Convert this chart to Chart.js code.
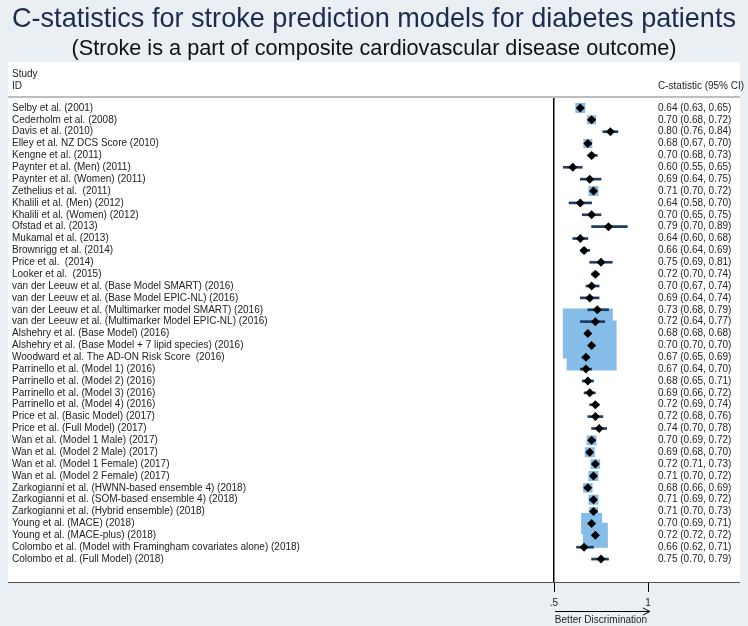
<!DOCTYPE html>
<html><head><meta charset="utf-8">
<script src="https://cdn.jsdelivr.net/npm/chart.js@4/dist/chart.umd.min.js"></script>
<style>html,body{margin:0;padding:0;background:#e9eff3}</style>
</head><body>
<div style="width:748px;height:626px"><canvas id="c" width="748" height="626"></canvas></div>
<script>
const studies = [
  "Selby et al. (2001)",
  "Cederholm et al. (2008)",
  "Davis et al. (2010)",
  "Elley et al. NZ DCS Score (2010)",
  "Kengne et al. (2011)",
  "Paynter et al. (Men) (2011)",
  "Paynter et al. (Women) (2011)",
  "Zethelius et al.  (2011)",
  "Khalili et al. (Men) (2012)",
  "Khalili et al. (Women) (2012)",
  "Ofstad et al. (2013)",
  "Mukamal et al. (2013)",
  "Brownrigg et al. (2014)",
  "Price et al.  (2014)",
  "Looker et al.  (2015)",
  "van der Leeuw et al. (Base Model SMART) (2016)",
  "van der Leeuw et al. (Base Model EPIC-NL) (2016)",
  "van der Leeuw et al. (Multimarker model SMART) (2016)",
  "van der Leeuw et al. (Multimarker Model EPIC-NL) (2016)",
  "Alshehry et al. (Base Model) (2016)",
  "Alshehry et al. (Base Model + 7 lipid species) (2016)",
  "Woodward et al. The AD-ON Risk Score  (2016)",
  "Parrinello et al. (Model 1) (2016)",
  "Parrinello et al. (Model 2) (2016)",
  "Parrinello et al. (Model 3) (2016)",
  "Parrinello et al. (Model 4) (2016)",
  "Price et al. (Basic Model) (2017)",
  "Price et al. (Full Model) (2017)",
  "Wan et al. (Model 1 Male) (2017)",
  "Wan et al. (Model 2 Male) (2017)",
  "Wan et al. (Model 1 Female) (2017)",
  "Wan et al. (Model 2 Female) (2017)",
  "Zarkogianni et al. (HWNN-based ensemble 4) (2018)",
  "Zarkogianni et al. (SOM-based ensemble 4) (2018)",
  "Zarkogianni et al. (Hybrid ensemble) (2018)",
  "Young et al. (MACE) (2018)",
  "Young et al. (MACE-plus) (2018)",
  "Colombo et al. (Model with Framingham covariates alone) (2018)",
  "Colombo et al. (Full Model) (2018)"
];
const estimates = [0.64,0.70,0.80,0.68,0.70,0.60,0.69,0.71,0.64,0.70,0.79,0.64,0.66,0.75,0.72,0.70,0.69,0.73,0.72,0.68,0.70,0.67,0.67,0.68,0.69,0.72,0.72,0.74,0.70,0.69,0.72,0.71,0.68,0.71,0.71,0.70,0.72,0.66,0.75];
const lower     = [0.63,0.68,0.76,0.67,0.68,0.55,0.64,0.70,0.58,0.65,0.70,0.60,0.64,0.69,0.70,0.67,0.64,0.68,0.64,0.68,0.70,0.65,0.64,0.65,0.66,0.69,0.68,0.70,0.69,0.68,0.71,0.70,0.66,0.69,0.70,0.69,0.72,0.62,0.70];
const upper     = [0.65,0.72,0.84,0.70,0.73,0.65,0.75,0.72,0.70,0.75,0.89,0.68,0.69,0.81,0.74,0.74,0.74,0.79,0.77,0.68,0.70,0.69,0.70,0.71,0.72,0.74,0.76,0.78,0.72,0.70,0.73,0.72,0.69,0.72,0.73,0.71,0.72,0.71,0.79];
const weights   = [2.0,1.8,0.6,1.8,1.2,0.3,0.4,2.0,0.4,0.5,0.2,0.6,1.2,0.4,1.2,0.8,0.6,0.5,0.5,10.0,10.0,1.2,0.8,0.8,0.9,1.0,0.6,0.6,2.0,2.0,1.9,2.0,1.9,2.0,1.8,4.2,5.0,0.5,0.6];
const xTicks = [0.5, 1];
const ciLabels = estimates.map((e,i)=>`${e.toFixed(2)} (${lower[i].toFixed(2)}, ${upper[i].toFixed(2)})`);

Chart.defaults.font.family = "'Liberation Sans', Arial, sans-serif";
Chart.defaults.color = '#222';

const BOX_PX = 5;
const rows = studies.map((_,i)=>i+1);

const framePlugin = {
  id: 'frame',
  beforeDraw(chart) {
    const {ctx, chartArea, width} = chart;
    ctx.save();
    ctx.fillStyle = '#e9eff3';
    ctx.fillRect(0, 0, width, chart.height);
    ctx.fillStyle = '#ffffff';
    ctx.fillRect(8, 62, width - 16, chartArea.bottom - 62);
    ctx.strokeStyle = '#a8a8a8';
    ctx.lineWidth = 1.5;
    ctx.beginPath();
    ctx.moveTo(8, chartArea.top - 2);
    ctx.lineTo(width - 8, chartArea.top - 2);
    ctx.stroke();
    ctx.fillStyle = '#222';
    ctx.font = "10px 'Liberation Sans', Arial, sans-serif";
    ctx.textBaseline = 'middle';
    ctx.textAlign = 'left';
    ctx.fillText('Study', 12, chartArea.top - 25);
    ctx.fillText('ID', 12, chartArea.top - 13);
    ctx.fillText('C-statistic (95% CI)', chartArea.right + 10, chartArea.top - 13);
    ctx.restore();
  },
  afterDraw(chart) {
    const {ctx, chartArea, width} = chart;
    const xs = chart.scales.x;
    ctx.save();
    ctx.strokeStyle = '#555';
    ctx.lineWidth = 1;
    ctx.beginPath();
    ctx.moveTo(8, chartArea.bottom + 0.5);
    ctx.lineTo(width - 8, chartArea.bottom + 0.5);
    ctx.stroke();
    const x0 = xs.getPixelForValue(xTicks[0]) + 1;
    const x1 = xs.getPixelForValue(xTicks[1]) + 2;
    const y = chartArea.bottom + 29.5;
    ctx.strokeStyle = '#000';
    ctx.beginPath();
    ctx.moveTo(x0, y); ctx.lineTo(x1, y);
    ctx.moveTo(x1 - 7, y - 3.5); ctx.lineTo(x1, y); ctx.lineTo(x1 - 7, y + 3.5);
    ctx.stroke();
    ctx.restore();
  }
};

new Chart(document.getElementById('c'), {
  type: 'bar',
  data: {
    datasets: [
      {
        type: 'scatter', label: 'C-statistic', xAxisID: 'x', yAxisID: 'y', order: 0,
        data: estimates.map((e,i)=>({x:e, y:rows[i]})),
        pointStyle: 'rectRot', pointRadius: 4.5, backgroundColor: '#000', borderWidth: 0
      },
      {
        type: 'bar', label: '95% CI', indexAxis: 'y', xAxisID: 'x', yAxisID: 'y', order: 1,
        data: lower.map((l,i)=>({x:[l, upper[i]], y:rows[i]})),
        backgroundColor: '#1d3d63', barThickness: 2, borderWidth: 0, borderSkipped: false
      },
      {
        type: 'scatter', label: 'Weight', xAxisID: 'x', yAxisID: 'y', order: 2,
        data: estimates.map((e,i)=>({x:e, y:rows[i]})),
        pointStyle: 'rect', pointRadius: weights.map(w => w * BOX_PX / Math.SQRT2),
        backgroundColor: '#86bde8', borderWidth: 0
      }
    ]
  },
  options: {
    indexAxis: 'y',
    responsive: false, animation: false, devicePixelRatio: 1,
    layout: { padding: { left: 12, right: 12, top: 0, bottom: 0 } },
    plugins: {
      legend: { display: false },
      tooltip: { enabled: false },
      title: {
        display: true,
        text: 'C-statistics for stroke prediction models for diabetes patients',
        color: '#1d2b4f', font: { size: 27.4, weight: 'normal' },
        padding: { top: 3, bottom: 0 }
      },
      subtitle: {
        display: true,
        text: '(Stroke is a part of composite cardiovascular disease outcome)',
        color: '#111', font: { size: 21.7, weight: 'normal' },
        padding: { top: 0, bottom: 37 }
      }
    },
    scales: {
      x: {
        type: 'linear', position: 'bottom', min: 0.5, max: 1, offset: false,
        afterBuildTicks: s => { s.ticks = xTicks.map(v => ({ value: v })); },
        afterFit: s => { s.height = 44; },
        ticks: { font: { size: 10 }, color: '#222', padding: 5,
          callback: v => String(v).replace(/^0(?=\.)/, '') },
        grid: { drawOnChartArea: false, tickLength: 10, color: '#000', lineWidth: 1 },
        border: { display: true, color: '#000' },
        title: { display: true, text: 'Better Discrimination', font: { size: 10 }, color: '#222', padding: 0 }
      },
      y: {
        type: 'linear', position: 'left', reverse: true, min: 0.242, max: 40.93, bounds: 'data', offset: false,
        afterBuildTicks: s => { s.ticks = rows.map(v => ({ value: v })); },
        afterFit: s => { s.width = 542; },
        ticks: { autoSkip: false, crossAlign: 'far', padding: 0, font: { size: 10 }, color: '#222',
          callback: v => studies[v - 1] },
        grid: { drawOnChartArea: false, drawTicks: false, offset: false },
        border: { display: true, color: '#000', width: 1.5 }
      },
      y2: {
        type: 'linear', axis: 'y', position: 'right', reverse: true, min: 0.242, max: 40.93, bounds: 'data', offset: false,
        afterBuildTicks: s => { s.ticks = rows.map(v => ({ value: v })); },
        afterFit: s => { s.width = 88; },
        ticks: { autoSkip: false, crossAlign: 'near', padding: 10, font: { size: 10 }, color: '#222',
          callback: v => ciLabels[v - 1] },
        grid: { display: false, drawTicks: false, tickLength: 0, offset: false },
        border: { display: false }
      }
    }
  },
  plugins: [framePlugin]
});
</script>
</body></html>
